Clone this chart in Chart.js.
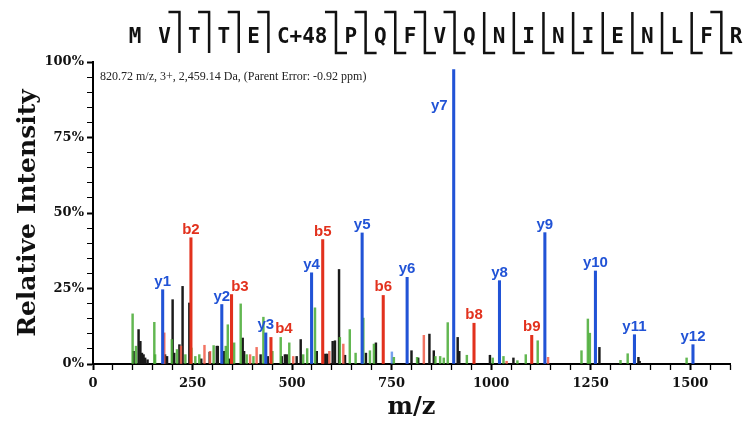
<!DOCTYPE html>
<html>
<head>
<meta charset="utf-8">
<script src="https://cdn.jsdelivr.net/npm/chart.js@4.4.1/dist/chart.umd.min.js"></script>
<style>
  html, body { margin: 0; padding: 0; background: #fff; }
  #wrap { width: 748px; height: 425px; }
</style>
</head>
<body>
<div id="wrap"><canvas id="spec" width="748" height="425"></canvas></div>
<script>
// peptide and fragment coverage
const residues = ['M','V','T','T','E','C+48','P','Q','F','V','Q','N','I','N','I','E','N','L','F','R'];
const bCuts = [2, 3, 4, 5, 6, 7, 8, 9, 10, 19];   // b ion seen after residue n
const yCuts = [6, 7, 8, 9, 10, 11, 12, 13, 14, 15, 16, 17, 18, 19];
const infoText = '820.72 m/z, 3+, 2,459.14 Da, (Parent Error: -0.92 ppm)';

// labelled y ions
const yIonMz = [175, 323.5, 434, 549, 676, 789, 906, 1021, 1135, 1262, 1360, 1507];
const yIonInt = [24.6, 19.7, 10.3, 30.2, 43.4, 28.7, 97.5, 27.6, 43.5, 30.8, 9.7, 6.4];
const yIonLabels = ['y1','y2','y3','y4','y5','y6','y7','y8','y9','y10','y11','y12'];

// labelled b ions
const bIonMz = [246, 348, 447, 577, 729, 957, 1102];
const bIonInt = [41.8, 23.0, 8.8, 41.2, 22.7, 13.5, 9.5];
const bIonLabels = ['b2','b3','b4','b5','b6','b8','b9'];

// unlabelled peaks
const blackMz = [102, 114.5, 119, 123, 127, 131, 137, 181, 186, 200, 204, 217, 225, 242, 272, 293, 311, 313.5,
  329, 343, 376, 379.5, 421, 439, 474, 482, 486.6, 511.6, 521.7, 562, 583.5, 588.5, 602, 607.8, 618, 633,
  685.5, 710.6, 800, 816.8, 845, 856, 916, 920, 997, 1056, 1272, 1370, 1373];
const blackInt = [4.2, 11.4, 7.5, 3.6, 3.1, 2.0, 1.4, 3.1, 2.5, 21.3, 3.6, 6.4, 25.7, 20.2, 1.7, 3.9, 5.9, 5.9,
  4.2, 1.7, 8.6, 4.2, 3.1, 2.5, 2.5, 3.1, 3.1, 2.5, 8.1, 4.2, 3.3, 3.3, 7.5, 7.7, 31.3, 2.9,
  3.6, 7.0, 4.4, 2.0, 9.9, 4.4, 8.8, 4.2, 2.9, 2.0, 5.5, 2.2, 0.9];

const greenMz = [99.5, 108, 154, 156, 198, 211, 232, 247, 257, 267, 303, 333.5, 338.6, 354.5, 371, 386, 403,
  428, 450.6, 471.5, 493, 528, 538, 557.6, 620, 645, 659.6, 679, 695.6, 705.6, 755.7, 814, 860, 872, 881, 891,
  939, 1004, 1031, 1066, 1087, 1117, 1227, 1243, 1248, 1325, 1343, 1491];
const greenInt = [16.6, 5.9, 13.8, 3.1, 8.1, 4.8, 3.1, 5.3, 2.5, 3.1, 6.1, 5.9, 13.0, 7.0, 19.9, 3.1, 2.5,
  15.5, 4.2, 8.8, 7.0, 3.1, 5.1, 18.6, 8.8, 11.4, 3.6, 15.2, 4.4, 6.6, 2.2, 2.2, 2.5, 2.5, 2.0, 13.7,
  2.9, 2.0, 2.5, 1.1, 3.1, 7.7, 4.4, 14.9, 10.2, 1.2, 3.4, 2.0];

const redMz = [179, 221, 280, 294, 394.6, 411, 503, 593.6, 628.7, 831, 1039, 1143];
const redInt = [10.3, 5.9, 6.2, 4.2, 3.1, 5.5, 2.5, 4.2, 6.6, 9.5, 0.9, 2.2];

const blueMz = [750.7];
const blueInt = [4.0];

const BLUE = '#2153d6';
const RED = '#e2311d';

const pts = (xs, ys) => xs.map((x, i) => ({ x, y: ys[i] }));

function peaks(label, xs, ys, color, order, width) {
  return {
    label,
    data: pts(xs, ys),
    backgroundColor: color,
    borderWidth: 0,
    barThickness: width || 1.8,
    grouped: false,
    order
  };
}

// fragment labels above the peaks, nudged right when they collide
const ionLabels = {
  id: 'ionLabels',
  afterDatasetsDraw(chart) {
    const { ctx, chartArea, scales: { x, y } } = chart;
    ctx.save();
    ctx.font = 'bold 15px "Liberation Sans", Arial, sans-serif';
    const items = [];
    yIonMz.forEach((m, i) => items.push({ m, v: yIonInt[i], t: yIonLabels[i], c: BLUE }));
    bIonMz.forEach((m, i) => items.push({ m, v: bIonInt[i], t: bIonLabels[i], c: RED }));
    items.sort((a, b) => a.m - b.m);
    const placed = [];
    items.forEach(it => {
      const px = x.getPixelForValue(it.m);
      const top = y.getPixelForValue(it.v);
      const w = ctx.measureText(it.t).width;
      ctx.fillStyle = it.c;
      if (top - 20 < chartArea.top) {
        ctx.textAlign = 'right';
        ctx.textBaseline = 'alphabetic';
        ctx.fillText(it.t, px - 6, top + 40);
        return;
      }
      let cx = px;
      const base = top - 4;
      for (const p of placed) {
        const overlapY = base > p.base - 14 && base - 14 < p.base;
        if (overlapY && cx - w / 2 < p.right && cx + w / 2 > p.left) {
          cx = p.right + w / 2 + 1;
        }
      }
      placed.push({ left: cx - w / 2, right: cx + w / 2, base });
      ctx.textAlign = 'center';
      ctx.textBaseline = 'alphabetic';
      ctx.fillText(it.t, cx, base);
    });
    ctx.restore();
  }
};

// peptide sequence with fragment brackets + precursor text
const header = {
  id: 'header',
  afterDraw(chart) {
    const { ctx, chartArea } = chart;
    ctx.save();
    ctx.font = 'bold 21px "DejaVu Sans Mono", monospace';
    ctx.fillStyle = '#111';
    ctx.textBaseline = 'middle';
    ctx.textAlign = 'left';
    const gap = 17;
    const top = 12, bottom = 53, bar = 11;
    let left = 135 - ctx.measureText(residues[0]).width / 2;
    residues.forEach((r, i) => {
      const w = ctx.measureText(r).width;
      ctx.fillText(r, left, 38);
      const cut = left + w + gap / 2;
      const hasB = bCuts.includes(i + 1);
      const hasY = yCuts.includes(i + 1);
      if (hasB || hasY) {
        ctx.strokeStyle = '#111';
        ctx.lineWidth = 2.5;
        ctx.beginPath();
        ctx.moveTo(cut, top);
        ctx.lineTo(cut, bottom);
        if (hasB) { ctx.moveTo(cut - bar, top); ctx.lineTo(cut + 1.2, top); }
        if (hasY) { ctx.moveTo(cut - 1.2, bottom); ctx.lineTo(cut + bar, bottom); }
        ctx.stroke();
      }
      left += w + gap;
    });

    ctx.font = '12px "Liberation Serif", serif';
    ctx.fillStyle = '#222';
    ctx.textBaseline = 'middle';
    ctx.fillText(infoText, chartArea.left + 7, chartArea.top + 15);
    ctx.restore();
  }
};

const tickFont = { family: '"DejaVu Serif", serif', weight: 'bold', size: 13 };

new Chart(document.getElementById('spec'), {
  type: 'bar',
  data: {
    datasets: [
      peaks('y ions', yIonMz, yIonInt, BLUE, 0, 2.4),
      peaks('b ions', bIonMz, bIonInt, RED, 0, 2.4),
      peaks('other', blackMz, blackInt, '#1a1a1a', 2),
      peaks('other', greenMz, greenInt, 'rgba(70,170,50,0.85)', 1),
      peaks('other', redMz, redInt, 'rgba(240,90,70,0.85)', 1),
      peaks('other', blueMz, blueInt, 'rgba(60,120,230,0.7)', 1)
    ]
  },
  options: {
    responsive: false,
    animation: false,
    layout: { padding: { top: 62, right: 18, left: 13, bottom: 0 } },
    plugins: {
      legend: { display: false },
      tooltip: { enabled: false }
    },
    scales: {
      x: {
        type: 'linear',
        min: 0,
        max: 1600,
        offset: false,
        afterFit: s => { s.height = 61; },
        border: { color: '#000', width: 2 },
        grid: {
          offset: false,
          drawOnChartArea: false,
          tickLength: 6,
          tickColor: '#000',
          tickWidth: c => (c.tick && c.tick.value % 250 === 0 ? 2 : 1.3)
        },
        ticks: {
          stepSize: 50,
          autoSkip: false,
          maxRotation: 0,
          padding: 6,
          color: '#111',
          font: tickFont,
          callback: v => (v % 250 === 0 && v <= 1500 ? v : '')
        },
        title: {
          display: true,
          text: 'm/z',
          color: '#111',
          font: { family: '"DejaVu Serif", serif', weight: 'bold', size: 24 },
          padding: { top: 0, bottom: 3 }
        }
      },
      y: {
        min: 0,
        max: 100,
        afterFit: s => { s.width = 80; },
        border: { color: '#000', width: 2 },
        grid: {
          drawOnChartArea: false,
          tickLength: 6,
          tickColor: '#000',
          tickWidth: c => (c.tick && c.tick.value % 25 === 0 ? 2 : 1)
        },
        ticks: {
          stepSize: 5,
          autoSkip: false,
          padding: 3,
          color: '#111',
          font: tickFont,
          callback: v => (v % 25 === 0 ? v + '%' : '')
        },
        title: {
          display: true,
          text: 'Relative Intensity',
          color: '#111',
          font: { family: '"DejaVu Serif", serif', weight: 'bold', size: 25 },
          padding: { top: 0, bottom: 0 }
        }
      }
    }
  },
  plugins: [ionLabels, header]
});
</script>
</body>
</html>
